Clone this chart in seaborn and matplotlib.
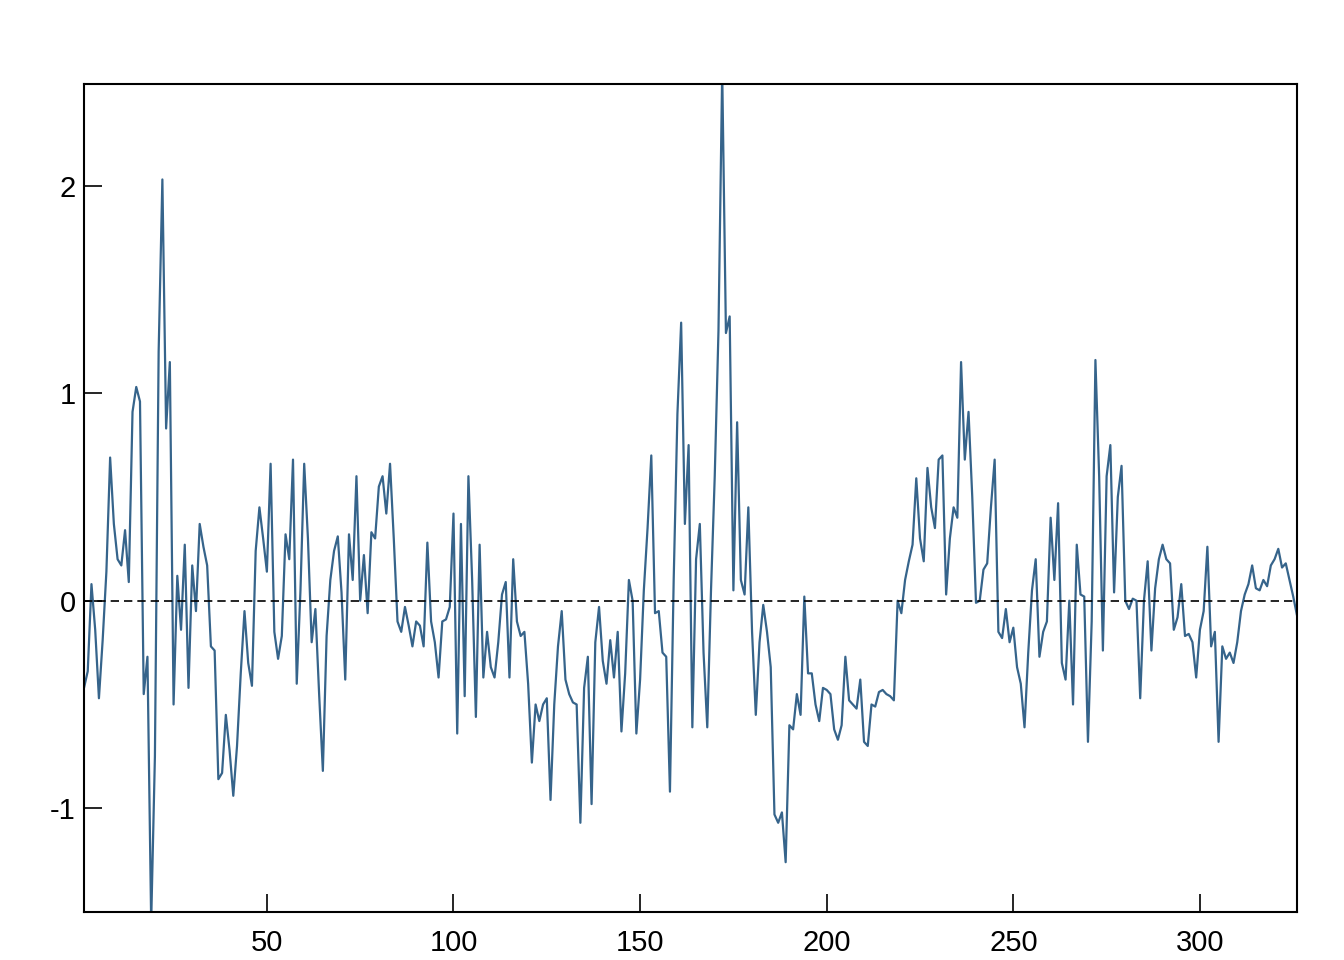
import matplotlib
matplotlib.use("Agg")
import matplotlib.pyplot as plt
import numpy as np
import seaborn as sns

# series values, one per time step (1..326)
values = [
    -0.42, -0.34, 0.08, -0.14, -0.47, -0.19, 0.14, 0.69, 0.37, 0.20,
    0.17, 0.34, 0.09, 0.91, 1.03, 0.96, -0.45, -0.27, -1.55, -0.75,
    1.20, 2.03, 0.83, 1.15, -0.50, 0.12, -0.14, 0.27, -0.42, 0.17,
    -0.05, 0.37, 0.26, 0.17, -0.22, -0.24, -0.86, -0.83, -0.55, -0.72,
    -0.94, -0.70, -0.35, -0.05, -0.30, -0.41, 0.24, 0.45, 0.30, 0.14,
    0.66, -0.15, -0.28, -0.17, 0.32, 0.20, 0.68, -0.40, 0.05, 0.66,
    0.30, -0.20, -0.04, -0.45, -0.82, -0.17, 0.10, 0.24, 0.31, 0.04,
    -0.38, 0.32, 0.10, 0.60, 0.00, 0.22, -0.06, 0.33, 0.30, 0.55,
    0.60, 0.42, 0.66, 0.30, -0.10, -0.15, -0.03, -0.12, -0.22, -0.10,
    -0.12, -0.22, 0.28, -0.10, -0.20, -0.37, -0.10, -0.09, -0.03, 0.42,
    -0.64, 0.37, -0.46, 0.60, 0.10, -0.56, 0.27, -0.37, -0.15, -0.32,
    -0.37, -0.20, 0.03, 0.09, -0.37, 0.20, -0.10, -0.17, -0.15, -0.40,
    -0.78, -0.50, -0.58, -0.50, -0.47, -0.96, -0.50, -0.22, -0.05, -0.38,
    -0.45, -0.49, -0.50, -1.07, -0.42, -0.27, -0.98, -0.20, -0.03, -0.29,
    -0.40, -0.19, -0.37, -0.15, -0.63, -0.35, 0.10, 0.00, -0.64, -0.38,
    0.05, 0.35, 0.70, -0.06, -0.05, -0.25, -0.27, -0.92, 0.10, 0.90,
    1.34, 0.37, 0.75, -0.61, 0.20, 0.37, -0.25, -0.61, 0.05, 0.60,
    1.30, 2.55, 1.29, 1.37, 0.05, 0.86, 0.10, 0.03, 0.45, -0.15,
    -0.55, -0.20, -0.02, -0.15, -0.32, -1.03, -1.07, -1.02, -1.26, -0.60,
    -0.62, -0.45, -0.55, 0.02, -0.35, -0.35, -0.50, -0.58, -0.42, -0.43,
    -0.45, -0.62, -0.67, -0.60, -0.27, -0.48, -0.50, -0.52, -0.38, -0.68,
    -0.70, -0.50, -0.51, -0.44, -0.43, -0.45, -0.46, -0.48, 0.00, -0.06,
    0.10, 0.19, 0.27, 0.59, 0.30, 0.19, 0.64, 0.45, 0.35, 0.68,
    0.70, 0.03, 0.30, 0.45, 0.40, 1.15, 0.68, 0.91, 0.50, -0.01,
    0.00, 0.15, 0.18, 0.45, 0.68, -0.15, -0.18, -0.04, -0.20, -0.13,
    -0.32, -0.40, -0.61, -0.25, 0.05, 0.20, -0.27, -0.15, -0.10, 0.40,
    0.10, 0.47, -0.30, -0.38, 0.00, -0.50, 0.27, 0.03, 0.02, -0.68,
    -0.10, 1.16, 0.60, -0.24, 0.60, 0.75, 0.04, 0.50, 0.65, 0.00,
    -0.04, 0.01, 0.00, -0.47, 0.00, 0.19, -0.24, 0.06, 0.20, 0.27,
    0.20, 0.18, -0.14, -0.08, 0.08, -0.17, -0.16, -0.20, -0.37, -0.14,
    -0.05, 0.26, -0.22, -0.15, -0.68, -0.22, -0.28, -0.25, -0.30, -0.20,
    -0.05, 0.03, 0.08, 0.17, 0.06, 0.05, 0.10, 0.07, 0.17, 0.20,
    0.25, 0.16, 0.18, 0.10, 0.02, -0.07,
]
x_ticks = [50, 100, 150, 200, 250, 300]
y_ticks = [-1, 0, 1, 2]

time = np.arange(1, len(values) + 1)

sns.set_style("ticks")
plt.rcParams["font.family"] = ["Liberation Sans", "DejaVu Sans"]
plt.rcParams["axes.unicode_minus"] = False

fig = plt.figure(figsize=(6.72, 4.8), dpi=200)
ax = fig.add_axes([0.0625, 0.05, 0.9025, 0.8625])

sns.lineplot(x=time, y=values, color="#36648B", linewidth=0.8, ax=ax)
ax.axhline(0, color="black", linewidth=0.6, linestyle=(0, (5, 3)))

ax.set_xlim(1, len(values))
ax.set_ylim(-1.5, 2.49)
ax.set_xticks(x_ticks)
ax.set_yticks(y_ticks)
ax.set_xlabel("")
ax.set_ylabel("")

ax.tick_params(direction="in", length=6.5, width=0.6, labelsize=10.5,
               colors="black")
ax.tick_params(axis="x", pad=6)
ax.tick_params(axis="y", pad=3)
for spine in ax.spines.values():
    spine.set_visible(True)
    spine.set_linewidth(0.75)
    spine.set_color("black")

fig.savefig("out.png", dpi=200)
